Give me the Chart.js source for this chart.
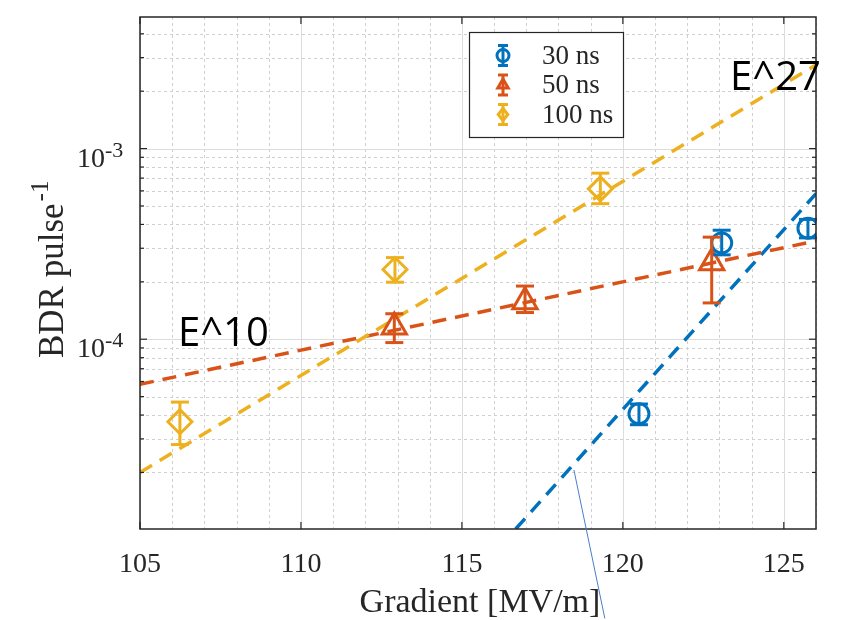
<!DOCTYPE html>
<html>
<head>
<meta charset="utf-8">
<script src="https://cdn.jsdelivr.net/npm/chart.js@4.4.0/dist/chart.umd.min.js"></script>
<style>
  html, body { margin: 0; padding: 0; background: #fff; }
  #wrap { width: 843px; height: 620px; }
</style>
</head>
<body>
<div id="wrap"><canvas id="bdrChart" width="843" height="620"></canvas></div>
<script>
// ==========================================
// DATA
// ==========================================
const seriesNames = ['30 ns', '50 ns', '100 ns'];
const seriesColors = ['#0072BD', '#D95319', '#EDB120'];

// 30 ns
const gradient30 = [120.5, 123.07, 125.75];
const bdr30 = [4.06e-5, 3.2e-4, 3.82e-4];
const bdr30Low = [3.56e-5, 2.77e-4, 3.4e-4];
const bdr30High = [4.57e-5, 3.73e-4, 4.25e-4];

// 50 ns
const gradient50 = [112.9, 116.96, 122.76];
const bdr50 = [1.16e-4, 1.57e-4, 2.52e-4];
const bdr50Low = [9.6e-5, 1.38e-4, 1.55e-4];
const bdr50High = [1.36e-4, 1.9e-4, 3.43e-4];

// 100 ns
const gradient100 = [106.24, 112.92, 119.3];
const bdr100 = [3.69e-5, 2.32e-4, 6.15e-4];
const bdr100Low = [2.8e-5, 1.99e-4, 5.14e-4];
const bdr100High = [4.68e-5, 2.68e-4, 7.43e-4];

// fitted power-law lines (end points)
const fitGradient30 = [116.67, 126];
const fitBdr30 = [1.01e-5, 5.8e-4];
const fitGradient50 = [105, 126];
const fitBdr50 = [5.8e-5, 3.28e-4];
const fitGradient100 = [105, 126];
const fitBdr100 = [2.0e-5, 2.75e-3];

// axes
const xTicks = [105, 110, 115, 120, 125];
const yTicks = [1e-4, 1e-3];
const yTickExponents = ['-4', '-3'];

// text annotations
const annotations = [
    { text: 'E^10', x: 106.18, y: 9.2e-5 },
    { text: 'E^27', x: 123.33, y: 2.04e-3 }
];
const pointerLine = { x: [118.48, 119.44], y: [2.06e-5, 3.43e-6] };

// ==========================================
// HELPERS
// ==========================================
function toPoints(xs, ys) {
    return xs.map((x, i) => ({ x: x, y: ys[i] }));
}

const errorSets = [
    { xs: gradient30, lo: bdr30Low, hi: bdr30High },
    { xs: gradient50, lo: bdr50Low, hi: bdr50High },
    { xs: gradient100, lo: bdr100Low, hi: bdr100High }
];

const SERIF = '"Liberation Serif", "Times New Roman", serif';
const SANS = '"Open Sans", "Liberation Sans", sans-serif';

function hLine(ctx, x1, x2, y) {
    ctx.beginPath(); ctx.moveTo(x1, y); ctx.lineTo(x2, y); ctx.stroke();
}
function vLine(ctx, x, y1, y2) {
    ctx.beginPath(); ctx.moveTo(x, y1); ctx.lineTo(x, y2); ctx.stroke();
}

function drawErrorBar(ctx, x, yLo, yHi, cap) {
    vLine(ctx, x, yLo, yHi);
    hLine(ctx, x - cap, x + cap, yLo);
    hLine(ctx, x - cap, x + cap, yHi);
}

function drawMarker(ctx, style, x, y, r) {
    ctx.beginPath();
    if (style === 'circle') {
        ctx.arc(x, y, r, 0, Math.PI * 2);
    } else if (style === 'triangle') {
        ctx.moveTo(x, y - r);
        ctx.lineTo(x + r * 0.87, y + r * 0.5);
        ctx.lineTo(x - r * 0.87, y + r * 0.5);
        ctx.closePath();
    } else {
        ctx.moveTo(x, y - r);
        ctx.lineTo(x + r * 0.8, y);
        ctx.lineTo(x, y + r);
        ctx.lineTo(x - r * 0.8, y);
        ctx.closePath();
    }
    ctx.stroke();
}

// ==========================================
// PLOT DECORATION PLUGIN (grid, box, ticks, labels, legend)
// ==========================================
const plotDecor = {
    id: 'plotDecor',
    beforeDatasetsDraw(chart) {
        const { ctx, chartArea: a, scales: { x, y } } = chart;
        ctx.save();
        ctx.lineWidth = 1;

        // minor grid, dotted
        ctx.strokeStyle = '#d0d0d0';
        ctx.setLineDash([3, 3]);
        for (let v = Math.ceil(x.min); v <= x.max; v++) {
            if (v % 5 === 0) continue;
            const px = Math.round(x.getPixelForValue(v)) + 0.5;
            vLine(ctx, px, a.top, a.bottom);
        }
        [1e-5, 1e-4, 1e-3].forEach(dec => {
            for (let k = 2; k <= 9; k++) {
                const v = k * dec;
                if (v <= y.min || v >= y.max) continue;
                const py = Math.round(y.getPixelForValue(v)) + 0.5;
                hLine(ctx, a.left, a.right, py);
            }
        });

        // major grid, solid
        ctx.setLineDash([]);
        ctx.strokeStyle = '#dcdcdc';
        xTicks.forEach(v => {
            const px = Math.round(x.getPixelForValue(v)) + 0.5;
            vLine(ctx, px, a.top, a.bottom);
        });
        yTicks.forEach(v => {
            const py = Math.round(y.getPixelForValue(v)) + 0.5;
            hLine(ctx, a.left, a.right, py);
        });
        ctx.restore();
    },
    afterDatasetsDraw(chart) {
        const { ctx, scales: { x, y } } = chart;
        ctx.save();

        // error bars
        ctx.lineWidth = 3;
        errorSets.forEach((set, s) => {
            ctx.strokeStyle = seriesColors[s];
            set.xs.forEach((gx, i) => {
                drawErrorBar(ctx, x.getPixelForValue(gx),
                    y.getPixelForValue(set.lo[i]), y.getPixelForValue(set.hi[i]), 9);
            });
        });
        ctx.restore();
    },
    afterDraw(chart) {
        const { ctx, chartArea: a, scales: { x, y } } = chart;
        ctx.save();

        // axes box
        ctx.strokeStyle = '#262626';
        ctx.lineWidth = 1.5;
        ctx.strokeRect(a.left, a.top, a.right - a.left, a.bottom - a.top);

        // tick marks
        ctx.lineWidth = 1.2;
        xTicks.forEach(v => {
            const px = x.getPixelForValue(v);
            vLine(ctx, px, a.bottom, a.bottom - 7);
            vLine(ctx, px, a.top, a.top + 7);
        });
        [1e-5, 1e-4, 1e-3].forEach(dec => {
            for (let k = 1; k <= 9; k++) {
                const v = k * dec;
                if (v < y.min || v > y.max) continue;
                const len = k === 1 ? 7 : 4;
                const py = y.getPixelForValue(v);
                hLine(ctx, a.left, a.left + len, py);
                hLine(ctx, a.right, a.right - len, py);
            }
        });

        // tick labels
        ctx.fillStyle = '#262626';
        ctx.font = '28px ' + SERIF;
        ctx.textAlign = 'center';
        ctx.textBaseline = 'alphabetic';
        xTicks.forEach(v => ctx.fillText(String(v), x.getPixelForValue(v), a.bottom + 43));

        yTicks.forEach((v, i) => {
            const py = y.getPixelForValue(v);
            ctx.font = '28px ' + SERIF;
            ctx.textAlign = 'right';
            ctx.fillText('10', a.left - 35, py + 18);
            ctx.font = '22px ' + SERIF;
            ctx.textAlign = 'left';
            ctx.fillText(yTickExponents[i], a.left - 35, py + 8);
        });

        // axis titles
        ctx.font = '34px ' + SERIF;
        ctx.textAlign = 'center';
        ctx.fillText('Gradient [MV/m]', (a.left + a.right) / 2 + 2, 612);

        ctx.save();
        ctx.translate(63, 358);
        ctx.rotate(-Math.PI / 2);
        ctx.textAlign = 'left';
        ctx.font = '35px ' + SERIF;
        ctx.fillText('BDR pulse', 0, 0);
        const w = ctx.measureText('BDR pulse').width;
        ctx.font = '25px ' + SERIF;
        ctx.fillText('-1', w + 2, -15);
        ctx.restore();

        // legend
        const lg = { left: 469, top: 32, right: 623, bottom: 137 };
        ctx.fillStyle = '#ffffff';
        ctx.fillRect(lg.left, lg.top, lg.right - lg.left, lg.bottom - lg.top);
        ctx.strokeStyle = '#262626';
        ctx.lineWidth = 1.2;
        ctx.strokeRect(lg.left + 0.5, lg.top + 0.5, lg.right - lg.left, lg.bottom - lg.top);
        const styles = ['circle', 'triangle', 'diamond'];
        seriesNames.forEach((name, i) => {
            const cy = 55.5 + i * 29.5;
            ctx.strokeStyle = seriesColors[i];
            ctx.lineWidth = 3;
            drawErrorBar(ctx, 503, cy - 10, cy + 10, 5);
            drawMarker(ctx, styles[i], 503, cy, 6);
            ctx.fillStyle = '#262626';
            ctx.font = '27px ' + SERIF;
            ctx.textAlign = 'left';
            ctx.fillText(name, 542, cy + 8);
        });

        // annotations
        ctx.fillStyle = '#000000';
        ctx.font = '40px ' + SANS;
        ctx.textAlign = 'left';
        annotations.forEach(t => {
            ctx.fillText(t.text, x.getPixelForValue(t.x), y.getPixelForValue(t.y));
        });

        ctx.strokeStyle = '#4a7ec8';
        ctx.lineWidth = 1;
        ctx.beginPath();
        ctx.moveTo(x.getPixelForValue(pointerLine.x[0]), y.getPixelForValue(pointerLine.y[0]));
        ctx.lineTo(x.getPixelForValue(pointerLine.x[1]), y.getPixelForValue(pointerLine.y[1]));
        ctx.stroke();

        ctx.restore();
    }
};

// ==========================================
// CHART
// ==========================================
function fitDataset(xs, ys, color) {
    return {
        type: 'line',
        data: toPoints(xs, ys),
        borderColor: color,
        borderWidth: 3.5,
        borderDash: [14, 9],
        pointRadius: 0,
        fill: false,
        tension: 0
    };
}

function pointDataset(label, xs, ys, color, style, radius) {
    return {
        label: label,
        data: toPoints(xs, ys),
        showLine: false,
        pointStyle: style,
        pointRadius: radius,
        pointBorderWidth: 3,
        pointBorderColor: color,
        pointBackgroundColor: 'rgba(0,0,0,0)',
        borderColor: color,
        backgroundColor: 'rgba(0,0,0,0)'
    };
}

new Chart(document.getElementById('bdrChart'), {
    type: 'scatter',
    data: {
        datasets: [
            pointDataset(seriesNames[0], gradient30, bdr30, seriesColors[0], 'circle', 10),
            pointDataset(seriesNames[1], gradient50, bdr50, seriesColors[1], 'triangle', 14),
            pointDataset(seriesNames[2], gradient100, bdr100, seriesColors[2], 'rectRot', 12),
            fitDataset(fitGradient100, fitBdr100, seriesColors[2]),
            fitDataset(fitGradient50, fitBdr50, seriesColors[1]),
            fitDataset(fitGradient30, fitBdr30, seriesColors[0])
        ]
    },
    options: {
        responsive: false,
        animation: false,
        devicePixelRatio: 1,
        layout: { padding: { top: 8, right: 27, left: 0, bottom: 0 } },
        scales: {
            x: {
                type: 'linear', min: 105, max: 126,
                ticks: { display: false },
                grid: { display: false },
                border: { display: false },
                afterFit: function(s) { s.height = 91; }
            },
            y: {
                type: 'logarithmic', min: 1.01e-5, max: 4.9e-3,
                ticks: { display: false },
                grid: { display: false },
                border: { display: false },
                afterFit: function(s) { s.width = 140; }
            }
        },
        plugins: {
            legend: { display: false },
            tooltip: { enabled: false }
        }
    },
    plugins: [plotDecor]
});
</script>
</body>
</html>
